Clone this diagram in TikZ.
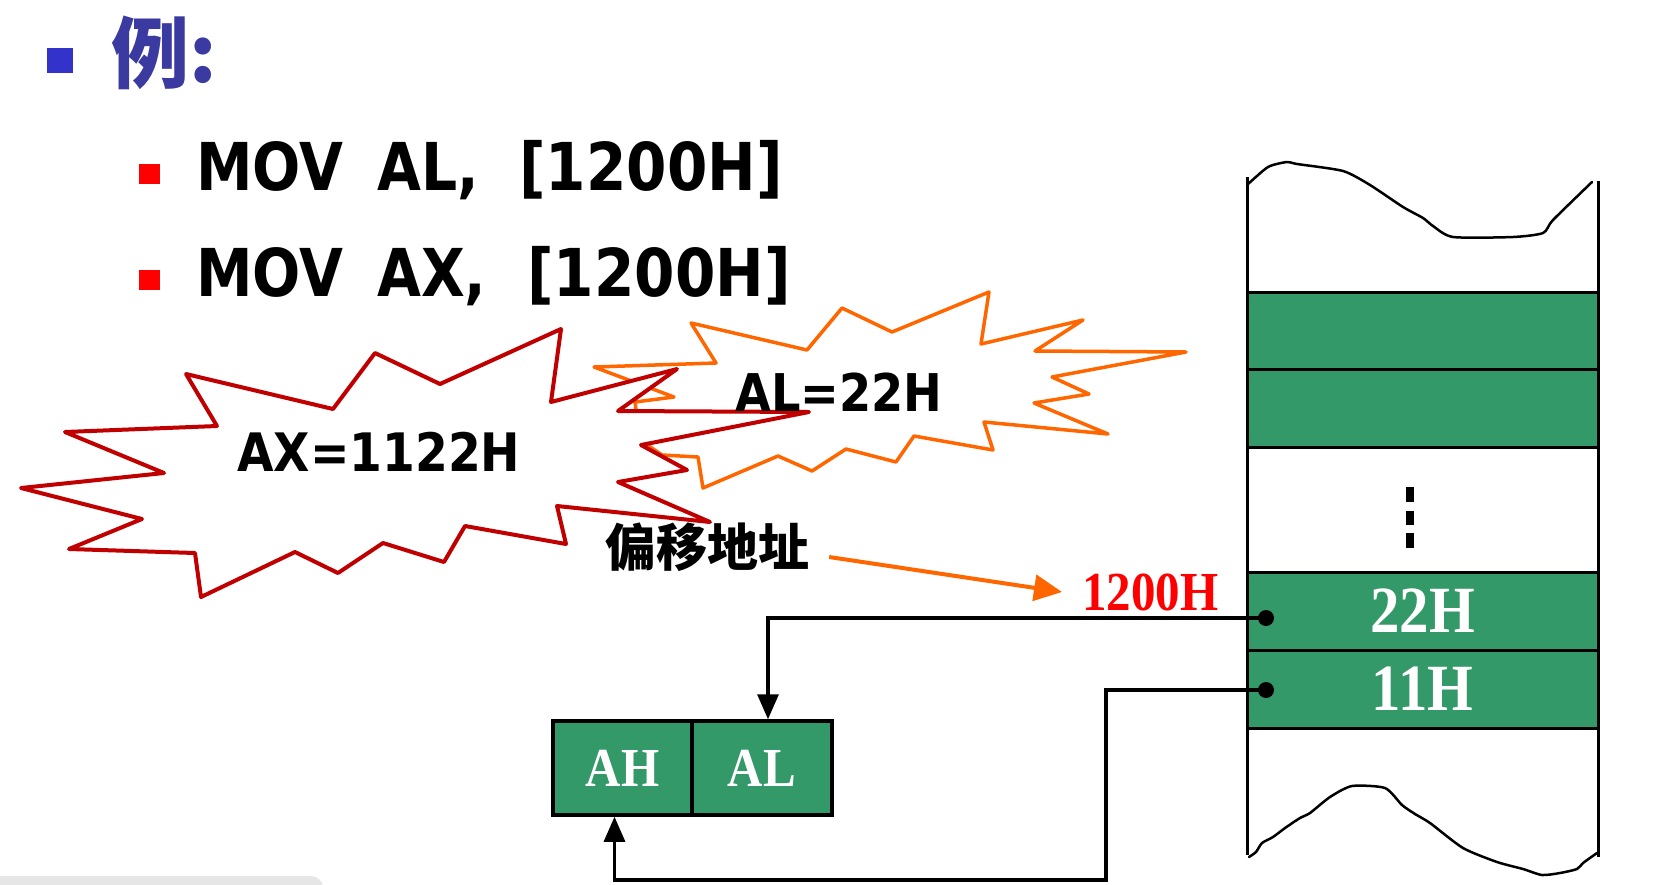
\documentclass[tikz,border=0pt]{standalone}
\usepackage{fontspec}
\usepackage{graphicx}
\usetikzlibrary{arrows.meta}
\newfontfamily\dvs{DejaVu Sans}
\newfontfamily\lser{Liberation Serif}
\newfontfamily\cjk{Noto Sans CJK SC}
\definecolor{mgreen}{RGB}{52,153,104}
\definecolor{sqblue}{RGB}{51,51,204}
\definecolor{tblue}{RGB}{58,58,160}
\definecolor{sred}{RGB}{192,0,0}
\definecolor{sorange}{RGB}{255,102,0}
\definecolor{bred}{RGB}{255,0,0}
\definecolor{lgrey}{RGB}{230,230,230}
\newcommand{\movtxt}[2]{{\dvs\bfseries\fontsize{66}{70}\selectfont\scalebox{#1}[1]{#2}}}
\newcommand{\startxt}[2]{{\dvs\bfseries\fontsize{#1}{#1}\selectfont\scalebox{0.89}[1]{#2}}}
\newcommand{\sertxt}[4]{{\lser\bfseries\fontsize{#1}{#1}\selectfont\scalebox{#2}[#3]{#4}}}
\begin{document}
\begin{tikzpicture}[x=1pt,y=-1pt,
  txt/.style={inner sep=0pt, anchor=base west},
  gcell/.style={draw=black, line width=3pt, fill=mgreen, minimum width=351pt, inner sep=0pt, text=white},
  reg/.style={draw=black, line width=3.5pt, fill=mgreen, minimum height=94pt, inner sep=0pt, text=white},
  conn/.style={line width=3.2pt, -{Triangle[length=25pt,width=21pt]}},
  redstar/.style={draw=sred, line width=4pt, fill=white, line join=round},
  orgstar/.style={draw=sorange, line width=3.5pt, fill=white, line join=round},
  edgeline/.style={line width=3pt},
  wave/.style={line width=2.5pt, line join=round, line cap=round}
]
\useasboundingbox (0,0) rectangle (1671,884);
\fill[white] (0,0) rectangle (1671,884);
\fill[lgrey, rounded corners=12pt] (-20,876) rectangle (323,904);

% title
\fill[sqblue] (47,48) rectangle (73,73);
\node[txt, text=tblue] (ex) at (111,82) {\cjk\bfseries\fontsize{78}{78}\selectfont 例:};
\fill[bred] (139,164) rectangle (160,184);
\fill[bred] (139,270) rectangle (160,290);
\node[txt] (m1a) at (196,190) {\movtxt{0.86}{MOV}};
\node[txt] (m1b) at (377,190) {\movtxt{0.86}{AL,}};
\node[txt] (m1c) at (519,190) {\movtxt{0.88}{[1200H]}};
\node[txt] (m2a) at (196,296) {\movtxt{0.86}{MOV}};
\node[txt] (m2b) at (377,296) {\movtxt{0.86}{AX,}};
\node[txt] (m2c) at (527,296) {\movtxt{0.88}{[1200H]}};

% stars
\draw[orgstar] (594,367) -- (674,397) -- (635,402) -- (640,440) -- (662,455) -- (698,457) -- (703,488) -- (778,456) -- (812,471) -- (846,449) -- (896,462) -- (914,436) -- (993,450) -- (984,422) -- (1108,434) -- (1034,403) -- (1089,394) -- (1052,377) -- (1186,352) -- (1035,351) -- (1083,320) -- (981,344) -- (989,292) -- (892,332) -- (842,308) -- (807,350) -- (691,323) -- (716,363) -- cycle;
\draw[redstar] (186,374) -- (333,409) -- (375,353) -- (440,384) -- (561,329) -- (551,402) -- (677,369) -- (618,411) -- (809,412) -- (641,445) -- (687,470) -- (618,482) -- (710,522) -- (557,506) -- (566,544) -- (465,526) -- (444,562) -- (383,543) -- (338,573) -- (295,552) -- (201,597) -- (195,553) -- (69,549) -- (142,519) -- (21,488) -- (164,473) -- (65,432) -- (217,426) -- cycle;
\node[txt] (axt) at (237,471) {\startxt{53}{AX=1122H}};
\node[txt] (alt) at (735,411) {\startxt{52}{AL=22H}};

% memory column
\node[gcell, minimum height=77pt] (c1) at (1422.5,330.5) {};
\node[gcell, minimum height=78pt] (c2) at (1422.5,408) {};
\node[gcell, minimum height=78pt] (c22) at (1422.5,611) {\sertxt{60}{0.98}{1.1}{22H}};
\node[gcell, minimum height=78pt] (c11) at (1422.5,689) {\sertxt{60}{0.98}{1.1}{11H}};
\draw[edgeline] (1247,177) -- (1247,855);
\draw[edgeline] (1598,181) -- (1598,857);
\fill (1406,487) rectangle (1414,502);
\fill (1406,511) rectangle (1414,525);
\fill (1406,533) rectangle (1414,548);
\draw[wave] plot[smooth, tension=0.4] coordinates {(1247,185) (1268,167) (1287,162) (1297,164) (1343,171) (1370,185) (1403,207) (1423,218) (1433,226) (1453,237) (1513,237) (1543,233) (1553,220) (1592,182)};
\draw[wave] plot[smooth, tension=0.4] coordinates {(1249,857) (1256,852) (1262,843) (1273,837) (1285,828) (1300,818) (1310,813) (1330,797) (1352,786) (1385,788) (1402,805) (1415,814) (1430,823) (1463,848) (1497,862) (1523,869) (1542,875) (1560,873) (1577,869) (1583,863) (1597,853)};

% registers
\node[reg, minimum width=139pt] (ah) at (622.5,768) {\sertxt{50}{0.98}{1.1}{AH}};
\node[reg, minimum width=140pt] (al) at (762,768) {\sertxt{50}{0.98}{1.1}{AL}};

% labels and connectors
\node[inner sep=0pt] (off) at (707,547) {\cjk\bfseries\fontsize{51}{51}\selectfont 偏移地址};
\node[txt, text=bred] (addr) at (1082,610) {\sertxt{50}{0.98}{1.1}{1200H}};
\draw[sorange, line width=4pt, -{Triangle[length=28pt,width=26pt]}] ([xshift=20pt,yshift=-10pt]off.east) -- ([xshift=-20pt]addr.west);

\coordinate (d1) at (1266,618);
\coordinate (d2) at (1266,690);
\coordinate (k1) at (1106,690);
\coordinate (k2) at (1106,880);
\draw[conn] (d1) -| ([xshift=6pt]al.north);
\draw[conn] (d2) -- (k1) -- (k2) -| ([xshift=-8pt]ah.south);
\fill (d1) circle (8pt);
\fill (d2) circle (8pt);
\end{tikzpicture}
\end{document}
